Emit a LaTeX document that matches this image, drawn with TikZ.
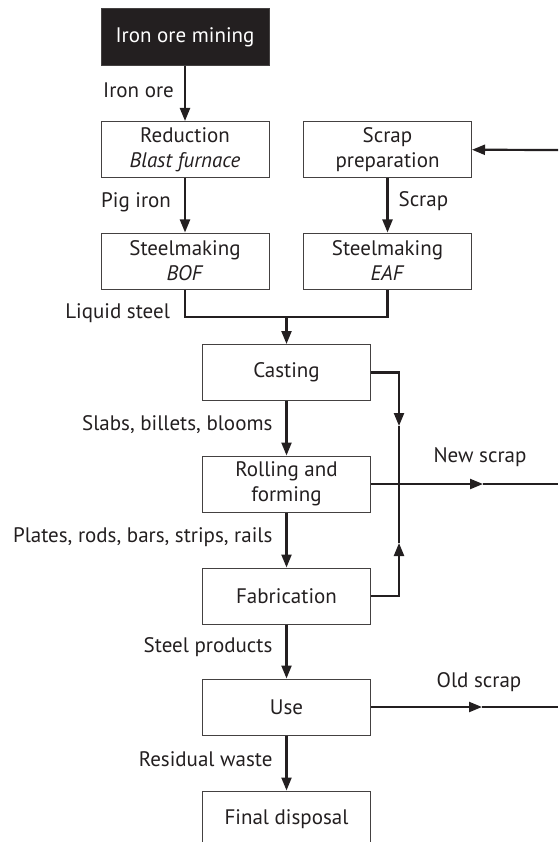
\documentclass[tikz,border=0pt]{standalone}
\usepackage{fontspec}
\setmainfont{PT Sans}
\usetikzlibrary{arrows.meta,calc}
\definecolor{ink}{HTML}{231F20}

\begin{document}
\begin{tikzpicture}[x=1pt,y=-1pt,
  box/.style={draw=ink!85,line width=1pt,minimum width=168pt,minimum height=56pt,inner sep=0pt,align=center,text=ink,font=\fontsize{21}{25}\selectfont},
  darkbox/.style={box,fill=ink,text=white,minimum height=57pt},
  pipe/.style={draw=ink,line width=2.2pt},
  flow/.style={pipe,-{Triangle[length=13pt,width=10pt]}},
  lbl/.style={text=ink,font=\fontsize{21}{25}\selectfont,inner sep=0pt}]
\useasboundingbox (0,0) rectangle (558,842);

% process boxes
\node[darkbox] (mining) at (185,37.5) {Iron ore mining};
\node[box] (reduction) at (185,149.5) {Reduction\\\textit{Blast furnace}};
\node[box] (scrapprep) at (387.5,149.5) {Scrap\\preparation};
\node[box] (bof) at (185,261) {Steelmaking\\\textit{BOF}};
\node[box] (eaf) at (387.5,261) {Steelmaking\\\textit{EAF}};
\node[box] (casting) at (286.5,372.5) {Casting};
\node[box] (rolling) at (286.5,484) {Rolling and\\forming};
\node[box] (fab) at (286.5,596) {Fabrication};
\node[box] (use) at (286.5,707) {Use};
\node[box] (disposal) at (286.5,819) {Final disposal};

% junctions and loose ends
\coordinate (join) at (286.5,317);
\coordinate (busdown) at (399,426);
\coordinate (busup) at (399,543);
\coordinate (bus) at (399,484);
\coordinate (newtip) at (483,484);
\coordinate (newend) at (558,484);
\coordinate (oldtip) at (482,707);
\coordinate (oldend) at (558,707);
\coordinate (scrapin) at (558,150);

% main route
\draw[flow] (mining) -- node[lbl,left=10pt,yshift=3pt] (lore) {Iron ore} (reduction);
\draw[flow] (reduction) -- node[lbl,left=13pt,yshift=3pt] (lpig) {Pig iron} (bof);
\draw[flow] (scrapprep) -- node[lbl,right=10pt,yshift=4pt] (lscrap) {Scrap} (eaf);
\draw[flow] (scrapin) -- (scrapprep);
\draw[pipe] (bof.south) |- node[lbl,left=14pt,yshift=4pt] (lliquid) {Liquid steel} (join) -| (eaf.south);
\draw[flow] (join) -- (casting);
\draw[flow] (casting) -- node[lbl,left=13pt,yshift=4pt] (lslabs) {Slabs, billets, blooms} (rolling);
\draw[flow] (rolling) -- node[lbl,left=13pt,yshift=3pt] (lplates) {Plates, rods, bars, strips, rails} (fab);
\draw[flow] (fab) -- node[lbl,left=13pt,yshift=4pt] (lproducts) {Steel products} (use);
\draw[flow] (use) -- node[lbl,left=13pt,yshift=4pt] (lwaste) {Residual waste} (disposal);

% scrap returns
\draw[flow] (casting.east) -| (busdown);
\draw[pipe] (busdown) -- (bus);
\draw[flow] (fab.east) -| (busup);
\draw[pipe] (busup) -- (bus);
\draw[flow] (rolling.east) -- (newtip);
\draw[draw=ink,line width=1.2pt] (newtip) -- (newend);
\node[lbl] (lnew) at (480,457) {New scrap};
\draw[flow] (use.east) -- (oldtip);
\draw[draw=ink,line width=1.2pt] (oldtip) -- (oldend);
\node[lbl] (lold) at (479,682) {Old scrap};
\end{tikzpicture}
\end{document}
